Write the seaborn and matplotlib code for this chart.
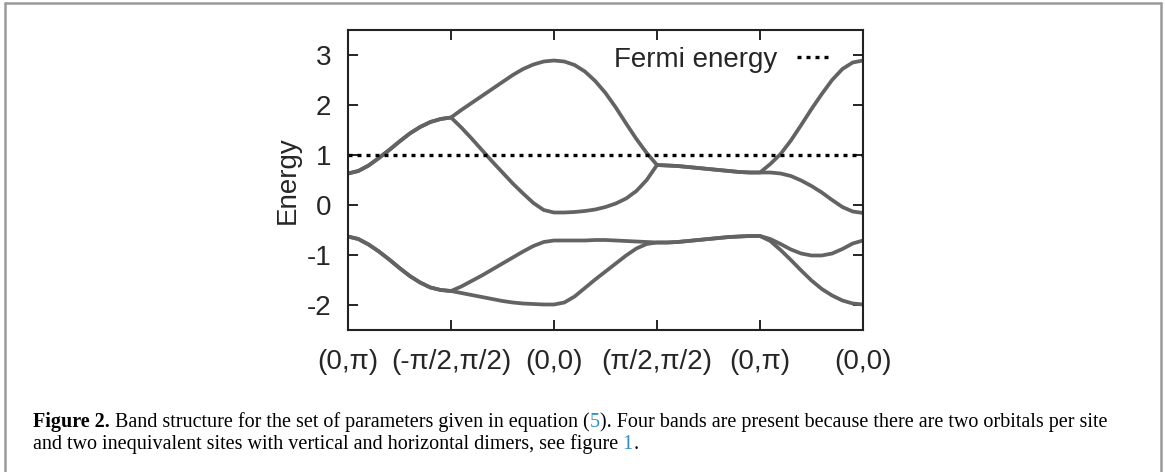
import numpy as np
import pandas as pd
import matplotlib
matplotlib.use("Agg")
import matplotlib.pyplot as plt
from matplotlib.lines import Line2D
import seaborn as sns

# high-symmetry points along the k-path
kpoint_pos = [0, 1, 2, 3, 4, 5]
kpoint_labels = ["(0,π)", "(-π/2,π/2)", "(0,0)", "(π/2,π/2)", "(0,π)", "(0,0)"]

# path coordinate, 10 samples per segment
k_path = [round(0.1 * i, 1) for i in range(51)]

# energies (sorted bands, lowest first)
band1 = [-0.63, -0.68, -0.79, -0.93, -1.09, -1.26, -1.42, -1.55, -1.65, -1.70, -1.72,
         -1.76, -1.80, -1.84, -1.88, -1.92, -1.95, -1.97, -1.98, -1.99, -1.99,
         -1.95, -1.83, -1.66, -1.49, -1.33, -1.17, -1.01, -0.87, -0.78, -0.75,
         -0.75, -0.74, -0.72, -0.70, -0.68, -0.66, -0.64, -0.63, -0.62, -0.62,
         -0.72, -0.90, -1.10, -1.31, -1.51, -1.68, -1.81, -1.91, -1.97, -1.99]
band2 = [-0.63, -0.68, -0.79, -0.93, -1.09, -1.26, -1.42, -1.55, -1.65, -1.70, -1.72,
         -1.63, -1.52, -1.41, -1.29, -1.17, -1.05, -0.93, -0.82, -0.74, -0.71,
         -0.71, -0.71, -0.71, -0.70, -0.70, -0.71, -0.72, -0.73, -0.74, -0.75,
         -0.75, -0.74, -0.72, -0.70, -0.68, -0.66, -0.64, -0.63, -0.62, -0.62,
         -0.68, -0.78, -0.89, -0.97, -1.01, -1.01, -0.97, -0.88, -0.77, -0.71]
band3 = [0.63, 0.68, 0.79, 0.94, 1.10, 1.27, 1.43, 1.56, 1.66, 1.72, 1.75,
         1.55, 1.33, 1.10, 0.87, 0.65, 0.43, 0.23, 0.04, -0.10, -0.15,
         -0.15, -0.14, -0.12, -0.09, -0.04, 0.03, 0.13, 0.28, 0.50, 0.80,
         0.79, 0.78, 0.76, 0.74, 0.72, 0.70, 0.68, 0.66, 0.65, 0.65,
         0.65, 0.63, 0.58, 0.49, 0.38, 0.25, 0.10, -0.04, -0.13, -0.16]
band4 = [0.63, 0.68, 0.79, 0.94, 1.10, 1.27, 1.43, 1.56, 1.66, 1.72, 1.75,
         1.90, 2.04, 2.18, 2.32, 2.46, 2.60, 2.72, 2.81, 2.87, 2.89,
         2.87, 2.80, 2.67, 2.48, 2.24, 1.95, 1.63, 1.32, 1.04, 0.80,
         0.79, 0.78, 0.76, 0.74, 0.72, 0.70, 0.68, 0.66, 0.65, 0.65,
         0.82, 1.02, 1.29, 1.60, 1.92, 2.22, 2.50, 2.72, 2.85, 2.89]

fermi_energy = 1.0
energy_ticks = [-2, -1, 0, 1, 2, 3]

df = pd.concat([
    pd.DataFrame({"k": k_path, "E": vals, "band": name})
    for name, vals in [("b1", band1), ("b2", band2), ("b3", band3), ("b4", band4)]
])

sns.set_style("ticks", {"xtick.direction": "in", "ytick.direction": "in"})
plt.rcParams["font.family"] = ["Liberation Sans", "DejaVu Sans"]
plt.rcParams["axes.unicode_minus"] = False

W, H = 1165, 472
fig = plt.figure(figsize=(W / 100, H / 100), dpi=100)
ax = fig.add_axes([348 / W, 1 - 330 / H, (863 - 348) / W, 300 / H])

sns.lineplot(data=df, x="k", y="E", units="band", estimator=None, sort=False,
             color="#636363", linewidth=2.7, ax=ax, legend=False)
ax.axhline(fermi_energy, color="black", linewidth=2.4, linestyle=(0, (1.2, 1.5)),
           dash_capstyle="butt", label="Fermi energy")

ax.set_xlim(0, 5)
ax.set_ylim(-2.5, 3.5)
ax.set_xticks(kpoint_pos)
ax.set_xticklabels(kpoint_labels)
ax.set_yticks(energy_ticks)
ax.set_xlabel("")
ax.set_ylabel("Energy", fontsize=20, labelpad=4)
ax.tick_params(axis="both", which="both", direction="in", length=7.5, width=1.2,
               labelsize=20, top=True, right=True, color="black")
ax.tick_params(axis="x", pad=14)
ax.tick_params(axis="y", pad=12)
for sp in ax.spines.values():
    sp.set_visible(True)
    sp.set_linewidth(1.5)
    sp.set_color("#222222")

ax.legend(loc="upper right", frameon=False, fontsize=20, markerfirst=False,
          handlelength=1.25, handletextpad=0.7, borderaxespad=0.2,
          bbox_to_anchor=(0.972, 1.0))

# outer frame of the figure panel (open at the bottom)
frame_kw = dict(color="#9a9a9a", linewidth=1.8, transform=fig.transFigure)
fig.add_artist(Line2D([5 / W, 5 / W], [0, 1 - 3 / H], **frame_kw))
fig.add_artist(Line2D([5 / W, 1161 / W], [1 - 3 / H, 1 - 3 / H], **frame_kw))
fig.add_artist(Line2D([1161 / W, 1161 / W], [0, 1 - 3 / H], **frame_kw))

# caption, placed piece by piece
cap_font = dict(family="Liberation Serif", fontsize=14.5, va="baseline")
link_blue = "#2f8fc8"
lines = [
    (33, 427, [("Figure 2.", "bold", "black"),
               (" Band structure for the set of parameters given in equation (", "normal", "black"),
               ("5", "normal", link_blue),
               ("). Four bands are present because there are two orbitals per site", "normal", "black")]),
    (33, 449, [("and two inequivalent sites with vertical and horizontal dimers, see figure", "normal", "black"),
               (" 1", "normal", link_blue),
               (".", "normal", "black")]),
]
renderer = fig.canvas.get_renderer()
for x0, y0, pieces in lines:
    x = x0
    for txt, weight, col in pieces:
        t = fig.text(x / W, 1 - y0 / H, txt, fontweight=weight, color=col, **cap_font)
        x += t.get_window_extent(renderer).width

fig.savefig("out.png", dpi=100, facecolor="white")
